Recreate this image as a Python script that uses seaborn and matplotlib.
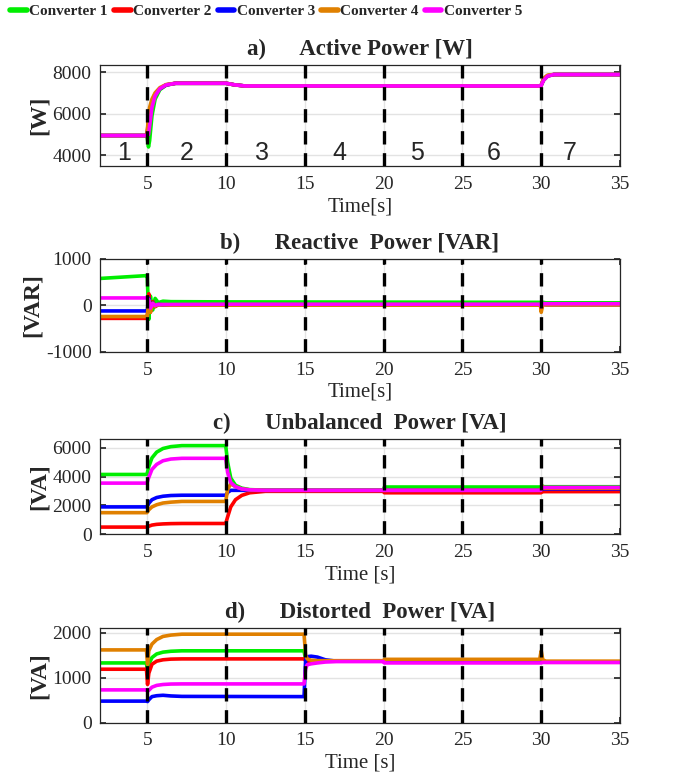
import pandas as pd
import matplotlib
matplotlib.use("Agg")
import matplotlib.pyplot as plt
import seaborn as sns
from matplotlib.lines import Line2D

sns.set_theme(style="ticks")
plt.rcParams['font.family'] = ['Liberation Serif', 'DejaVu Serif']
plt.rcParams['axes.unicode_minus'] = False

converters = ["Converter 1", "Converter 2", "Converter 3", "Converter 4", "Converter 5"]
colors = ["#00ee00", "#ff0000", "#0000ff", "#e08000", "#ff00ff"]

# a) active power
t_active = [2, 4.98, 5.08, 5.15, 5.3, 5.5, 5.8, 6.2, 6.8, 10, 10.5, 11.2, 29.98, 30.15, 30.4, 30.8, 35]
active_c1 = [4950, 4950, 4400, 4700, 5900, 6700, 7150, 7370, 7460, 7460, 7390, 7330, 7330, 7600, 7800, 7880, 7880]
active_c2 = [4950, 4950, 5700, 6100, 6600, 6950, 7200, 7380, 7460, 7460, 7390, 7330, 7330, 7650, 7820, 7880, 7880]
active_c3 = [4950, 4950, 5500, 6000, 6500, 6900, 7200, 7380, 7460, 7460, 7390, 7330, 7330, 7650, 7820, 7880, 7880]
active_c4 = [4950, 4950, 5900, 6300, 6700, 7000, 7250, 7400, 7460, 7460, 7390, 7330, 7330, 7700, 7850, 7880, 7880]
active_c5 = [4950, 4950, 5000, 5400, 6300, 6850, 7200, 7380, 7460, 7460, 7390, 7330, 7330, 7600, 7800, 7880, 7880]

# b) reactive power
t_reactive = [2, 4.9, 5.0, 5.1, 5.2, 5.35, 5.5, 5.7, 6.0, 6.5, 10, 29.95, 30.0, 30.1, 30.3, 35]
reactive_c1 = [580, 640, 620, -300, 200, -100, 150, 60, 90, 80, 75, 65, 65, 65, 55, 55]
reactive_c2 = [-280, -280, -280, 250, -150, 80, -30, 20, 10, 10, 10, 10, -80, 30, 20, 20]
reactive_c3 = [-120, -120, -120, 150, -100, 60, -20, 20, 10, 10, 10, 10, -50, 20, 15, 15]
reactive_c4 = [-240, -240, -240, 100, -150, 50, -20, 15, 10, 5, 5, 5, -150, 20, 10, 10]
reactive_c5 = [160, 160, 160, 120, -60, 40, 0, 20, 20, 20, 25, 25, -30, 40, 35, 35]

# c) unbalanced power
t_unbal = [2, 4.98, 5.1, 5.3, 5.6, 6.0, 6.5, 7.2, 9.98, 10.1, 10.3, 10.6, 11, 11.5, 12.5,
           19.98, 20.05, 29.98, 30.05, 30.2, 35]
unbal_c1 = [4150, 4150, 4700, 5300, 5700, 5950, 6080, 6150, 6150, 5000, 3900, 3400, 3200, 3100, 3060,
            3060, 3280, 3280, 3350, 3300, 3300]
unbal_c2 = [500, 500, 560, 640, 690, 720, 740, 750, 750, 1200, 1900, 2400, 2700, 2880, 2980,
            2980, 2880, 2880, 2950, 2960, 2960]
unbal_c3 = [1900, 1900, 2150, 2400, 2550, 2640, 2690, 2710, 2710, 2900, 3050, 3050, 3050, 3050, 3050,
            3050, 3050, 3050, 3150, 3150, 3150]
unbal_c4 = [1500, 1500, 1700, 1900, 2050, 2170, 2230, 2280, 2280, 3100, 3500, 3300, 3150, 3080, 3050,
            3050, 3050, 3050, 3350, 3200, 3200]
unbal_c5 = [3550, 3550, 3950, 4500, 4850, 5100, 5220, 5270, 5270, 4300, 3600, 3300, 3150, 3080, 3050,
            3050, 3050, 3050, 3200, 3250, 3250]

# d) distorted power
t_dist = [2, 4.95, 5.02, 5.1, 5.3, 5.6, 6.0, 6.5, 7.2, 14.95, 15.05, 15.15, 15.4, 15.8, 16.3, 17,
          19.98, 20.05, 29.9, 30.0, 30.1, 30.3, 35]
dist_c1 = [1330, 1330, 1100, 1300, 1450, 1530, 1570, 1590, 1600, 1600, 1400, 1380, 1370, 1370, 1370, 1370,
           1370, 1370, 1370, 1450, 1360, 1350, 1350]
dist_c2 = [1190, 1190, 850, 1100, 1300, 1370, 1400, 1415, 1420, 1420, 1380, 1370, 1370, 1370, 1370, 1370,
           1370, 1360, 1360, 1420, 1350, 1345, 1345]
dist_c3 = [480, 480, 470, 510, 580, 600, 610, 595, 585, 580, 1400, 1470, 1480, 1460, 1400, 1370,
           1370, 1370, 1370, 1370, 1350, 1350, 1350]
dist_c4 = [1620, 1620, 1300, 1600, 1750, 1850, 1920, 1950, 1970, 1970, 1500, 1420, 1390, 1380, 1380, 1380,
           1380, 1410, 1410, 1600, 1400, 1370, 1370]
dist_c5 = [730, 730, 700, 720, 790, 830, 850, 860, 863, 863, 1200, 1290, 1310, 1330, 1350, 1360,
           1360, 1330, 1330, 1330, 1340, 1340, 1340]

event_times = [5, 10, 15, 20, 25, 30]
stage_labels = ["1", "2", "3", "4", "5", "6", "7"]
stage_x = [3.5, 7.5, 12.3, 17.2, 22.1, 27.0, 31.8]

panels = [
    ("a)      Active Power [W]", "[W]", "Time[s]", t_active,
     [active_c1, active_c2, active_c3, active_c4, active_c5], (3480, 8350), [4000, 6000, 8000]),
    ("b)      Reactive  Power [VAR]", "[VAR]", "Time[s]", t_reactive,
     [reactive_c1, reactive_c2, reactive_c3, reactive_c4, reactive_c5], (-1000, 1000), [-1000, 0, 1000]),
    ("c)      Unbalanced  Power [VA]", "[VA]", "Time [s]", t_unbal,
     [unbal_c1, unbal_c2, unbal_c3, unbal_c4, unbal_c5], (0, 6600), [0, 2000, 4000, 6000]),
    ("d)      Distorted  Power [VA]", "[VA]", "Time [s]", t_dist,
     [dist_c1, dist_c2, dist_c3, dist_c4, dist_c5], (0, 2110), [0, 1000, 2000]),
]

# axes boxes in figure fractions (left, bottom, width, height)
boxes = [
    (0.143, 0.787, 0.744, 0.130),
    (0.143, 0.549, 0.744, 0.119),
    (0.143, 0.315, 0.744, 0.122),
    (0.143, 0.0735, 0.744, 0.1215),
]

fig = plt.figure(figsize=(6.99, 7.8), dpi=100)

for (title, ylab, xlab, t, series, ylim, yticks), box in zip(panels, boxes):
    ax = fig.add_axes(box)
    frames = [pd.DataFrame({"time": t, "value": v, "conv": name})
              for name, v in zip(converters, series)]
    df = pd.concat(frames, ignore_index=True)
    sns.lineplot(data=df, x="time", y="value", hue="conv", palette=colors,
                 hue_order=converters, estimator=None, sort=False, linewidth=2.6,
                 legend=False, ax=ax)
    for te in event_times:
        ax.axvline(te, color="black", lw=2.4, linestyle=(0, (4, 2.6)), zorder=5)
    ax.set_xlim(2, 35)
    ax.set_ylim(*ylim)
    ax.set_xticks([5, 10, 15, 20, 25, 30, 35])
    ax.set_yticks(yticks)
    ax.grid(True, color="#e3e3e3", lw=1.0)
    ax.set_axisbelow(True)
    ax.tick_params(direction="in", top=True, right=True, labelsize=14, length=4,
                   colors="#262626")
    ax.tick_params(axis="x", pad=7)
    ax.tick_params(axis="y", pad=6)
    for sp in ax.spines.values():
        sp.set_visible(True)
        sp.set_color("#262626")
        sp.set_linewidth(0.9)
    ax.set_title(title, fontsize=16.5, fontweight="bold", pad=7)
    ax.set_ylabel(ylab, fontsize=17, fontweight="bold", labelpad=2)
    ax.set_xlabel(xlab, fontsize=15, labelpad=3)
    if ylab == "[W]":
        for lab, xs in zip(stage_labels, stage_x):
            ax.text(xs, 4100, lab, fontsize=18, ha="center", va="center",
                    family=["Liberation Sans", "DejaVu Sans"], zorder=6)

handles = [Line2D([], [], color=c, lw=4) for c in colors]
fig.legend(handles, converters, loc="upper left", bbox_to_anchor=(-0.005, 1.012), ncol=5,
           frameon=False, handlelength=1.1, handletextpad=0.15, columnspacing=0.4,
           prop={"family": "Liberation Serif", "weight": "bold", "size": 11})

fig.savefig("out.png", dpi=100)
